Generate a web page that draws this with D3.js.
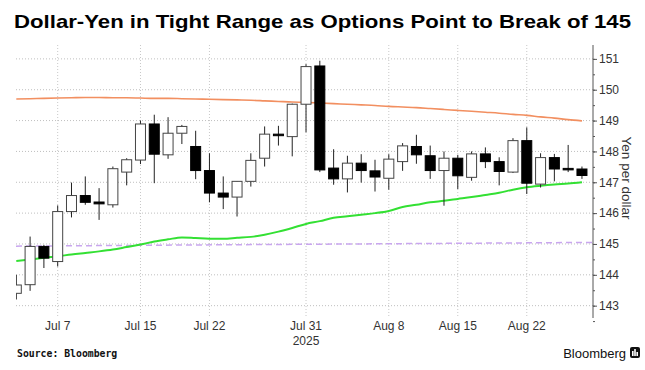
<!DOCTYPE html>
<html>
<head>
<meta charset="utf-8">
<script src="https://cdn.jsdelivr.net/npm/d3@7"></script>
<style>
  html, body { margin: 0; padding: 0; background: #fff; }
  svg { display: block; font-family: "Liberation Sans", Arial, sans-serif; }
</style>
</head>
<body>
<svg id="chart" width="645" height="370"></svg>
<script>
// USD/JPY daily candles, Jul 2 - Aug 28 2025 (trading days only)
const dates = ["Jul 2","Jul 3","Jul 4","Jul 7","Jul 8","Jul 9","Jul 10","Jul 11","Jul 14","Jul 15",
  "Jul 16","Jul 17","Jul 18","Jul 21","Jul 22","Jul 23","Jul 24","Jul 25","Jul 28","Jul 29",
  "Jul 30","Jul 31","Aug 1","Aug 4","Aug 5","Aug 6","Aug 7","Aug 8","Aug 11","Aug 12",
  "Aug 13","Aug 14","Aug 15","Aug 18","Aug 19","Aug 20","Aug 21","Aug 22","Aug 25","Aug 26",
  "Aug 27","Aug 28"];
const open  = [143.40,143.68,144.92,144.43,146.05,146.57,146.36,146.27,147.33,147.72,
  148.89,147.89,148.59,148.16,147.38,146.65,146.52,147.03,147.78,148.56,
  148.48,149.53,150.77,147.46,147.11,147.62,147.37,147.13,147.67,148.16,
  147.86,147.38,147.78,147.16,147.92,147.67,147.33,148.35,146.94,147.80,
  147.45,147.43];
const high  = [144.00,145.24,144.97,146.25,146.99,147.19,146.81,147.51,147.78,149.00,
  149.19,149.11,148.86,148.67,147.94,147.19,147.03,147.94,148.81,148.83,
  149.55,150.83,150.94,148.07,147.86,147.91,147.73,147.91,148.27,148.54,
  148.19,148.00,147.89,148.00,148.13,147.81,148.43,148.78,147.94,147.92,
  148.21,147.51];
const low   = [143.20,143.48,144.22,144.27,145.86,146.27,145.78,146.18,146.90,147.59,
  146.97,147.76,148.24,147.10,146.35,146.13,145.89,146.86,147.51,148.19,
  147.84,148.62,147.33,146.92,146.67,146.99,146.70,146.76,147.37,147.60,
  147.11,146.24,146.78,147.05,147.46,146.90,147.30,146.62,146.83,147.03,
  147.33,147.11];
const close = [143.67,144.92,144.54,146.05,146.57,146.35,146.30,147.44,147.73,148.89,
  147.91,148.59,148.81,147.38,146.65,146.52,147.03,147.71,148.56,148.51,
  149.53,150.75,147.40,147.11,147.62,147.38,147.17,147.75,148.18,147.89,
  147.38,147.78,147.21,147.92,147.67,147.35,148.35,146.97,147.80,147.43,
  147.42,147.22];

// moving averages (orange = slow, green = faster)
const maSlow = [149.70,149.71,149.72,149.73,149.74,149.75,149.75,149.74,149.74,149.73,
  149.72,149.72,149.71,149.70,149.69,149.68,149.67,149.66,149.64,149.62,
  149.60,149.59,149.57,149.55,149.53,149.51,149.49,149.46,149.44,149.42,
  149.39,149.36,149.33,149.30,149.27,149.24,149.20,149.17,149.12,149.08,
  149.03,148.99];
const maFast = [144.45,144.50,144.55,144.60,144.66,144.71,144.76,144.82,144.90,144.98,
  145.08,145.15,145.21,145.19,145.17,145.17,145.20,145.23,145.30,145.40,
  145.52,145.65,145.74,145.85,145.90,145.95,146.00,146.07,146.20,146.27,
  146.35,146.40,146.46,146.52,146.59,146.66,146.76,146.84,146.89,146.93,
  146.96,147.00];
// options break level (dashed), start and end of the window
const breakLevel = [144.93, 145.05];

const xTickLabels = ["Jul 7","Jul 15","Jul 22","Jul 31","Aug 8","Aug 15","Aug 22"];
const yTicks = [143,144,145,146,147,148,149,150,151];

const svg = d3.select("#chart");
const L = 16, R = 593, T = 45, B = 318;

const x = d3.scaleLinear().domain([0, 41.8]).range([16.3, R]);
const y = d3.scaleLinear().domain([142.6, 151.45]).range([B, T]);

svg.append("defs").append("clipPath").attr("id", "plot")
  .append("rect").attr("x", L).attr("y", T).attr("width", R - L).attr("height", B - T);

// title
svg.append("text").attr("x", 14).attr("y", 28)
  .attr("font-size", 18.5).attr("font-weight", "bold").attr("fill", "#000")
  .attr("textLength", 617).attr("lengthAdjust", "spacingAndGlyphs")
  .text("Dollar-Yen in Tight Range as Options Point to Break of 145");

// grid
const grid = svg.append("g");
grid.selectAll("line.h").data(yTicks).join("line")
  .attr("x1", L).attr("x2", R).attr("y1", d => y(d)).attr("y2", d => y(d))
  .attr("stroke", "#bfbfbf").attr("stroke-dasharray", "1,2");
const tickIdx = xTickLabels.map(l => dates.indexOf(l));
grid.selectAll("line.v").data(tickIdx).join("line")
  .attr("x1", d => x(d)).attr("x2", d => x(d)).attr("y1", T).attr("y2", B)
  .attr("stroke", "#c8c8c8").attr("stroke-dasharray", "1,2");

const plot = svg.append("g").attr("clip-path", "url(#plot)");

// lines
plot.append("line")
  .attr("x1", L).attr("x2", R).attr("y1", y(breakLevel[0])).attr("y2", y(breakLevel[1]))
  .attr("stroke", "#c9a6ef").attr("stroke-width", 1.5).attr("stroke-dasharray", "6,4");

const line = d3.line().x((d, i) => x(i)).y(d => y(d)).curve(d3.curveMonotoneX);
plot.append("path").attr("d", line(maSlow)).attr("fill", "none")
  .attr("stroke", "#f28f60").attr("stroke-width", 1.6);
plot.append("path").attr("d", line(maFast)).attr("fill", "none")
  .attr("stroke", "#33e033").attr("stroke-width", 2);

// candles
const bw = 10;
const candles = plot.selectAll("g.c").data(dates).join("g");
candles.append("line")
  .attr("x1", (d, i) => x(i)).attr("x2", (d, i) => x(i))
  .attr("y1", (d, i) => y(high[i])).attr("y2", (d, i) => y(low[i]))
  .attr("stroke", "#222").attr("stroke-width", 1);
candles.append("rect")
  .attr("x", (d, i) => x(i) - bw / 2)
  .attr("y", (d, i) => y(Math.max(open[i], close[i])))
  .attr("width", bw)
  .attr("height", (d, i) => Math.max(1.5, y(Math.min(open[i], close[i])) - y(Math.max(open[i], close[i]))))
  .attr("fill", (d, i) => close[i] >= open[i] ? "#fff" : "#000")
  .attr("stroke", (d, i) => close[i] >= open[i] ? "#444" : "#000")
  .attr("stroke-width", 1);

// y axis (right)
const yAxis = svg.append("g").attr("transform", "translate(" + R + ",0)");
yAxis.call(d3.axisRight(y).tickValues(d3.range(142.5, 151.5, 0.5)).tickSize(2).tickFormat(""))
  .call(g => g.select(".domain").remove());
yAxis.append("g").call(d3.axisRight(y).tickValues(yTicks).tickSize(4).tickPadding(2))
  .call(g => g.select(".domain").remove())
  .call(g => g.selectAll("text").attr("font-size", 12).attr("fill", "#333")
    .attr("font-family", "Liberation Sans, Arial, sans-serif"));
yAxis.selectAll("line").attr("stroke", "#555");
yAxis.append("line").attr("y1", T).attr("y2", B).attr("stroke", "#555");

svg.append("text")
  .attr("transform", "translate(622,178) rotate(90)")
  .attr("text-anchor", "middle").attr("font-size", 13.5).attr("fill", "#333")
  .text("Yen per dollar");

// x labels
svg.selectAll("text.xl").data(xTickLabels).join("text")
  .attr("x", l => x(dates.indexOf(l))).attr("y", 330)
  .attr("text-anchor", "middle").attr("font-size", 12).attr("fill", "#333")
  .text(l => l);
svg.append("text").attr("x", x(dates.indexOf("Jul 31"))).attr("y", 345)
  .attr("text-anchor", "middle").attr("font-size", 12).attr("fill", "#333").text("2025");

// footer
svg.append("text").attr("x", 17).attr("y", 357)
  .attr("font-family", "DejaVu Sans Mono, monospace").attr("font-weight", "bold")
  .attr("font-size", 9.8).attr("fill", "#111").text("Source: Bloomberg");
svg.append("text").attr("x", 626).attr("y", 358).attr("text-anchor", "end")
  .attr("font-size", 13).attr("fill", "#111").text("Bloomberg");
const logo = svg.append("g").attr("transform", "translate(630,347)");
logo.append("rect").attr("width", 10).attr("height", 11).attr("rx", 2).attr("fill", "#111");
[[2,4,1.6],[4.2,2,1.6],[6.4,5,1.6]].forEach(b => {
  logo.append("rect").attr("x", b[0]).attr("y", b[1]).attr("width", b[2]).attr("height", 9 - b[1]).attr("fill", "#fff");
});
</script>
</body>
</html>
